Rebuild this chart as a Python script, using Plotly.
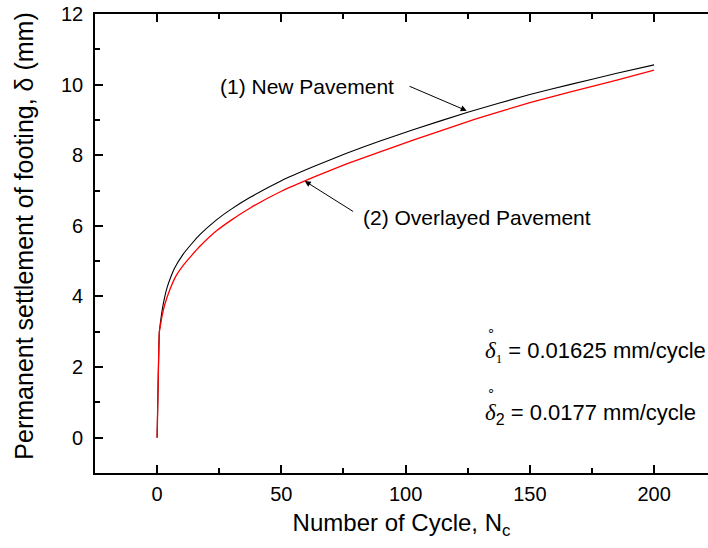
import plotly.graph_objects as go

# Settlement curves: number of cycles vs permanent settlement (mm)
cycles_new = [0, 0.4, 0.9, 1.5, 2, 3, 4, 5.5, 7, 10.5, 14, 17.2, 23.9, 30, 37.3, 50, 63, 76, 90, 103, 125, 150, 166, 185, 200]
settle_new = [0, 1.5, 3.0, 3.35, 3.6, 3.97, 4.25, 4.55, 4.8, 5.2, 5.5, 5.75, 6.17, 6.48, 6.8, 7.28, 7.68, 8.05, 8.41, 8.72, 9.22, 9.72, 10.0, 10.32, 10.56]

cycles_overlay = [0, 0.4, 0.9, 1.5, 2, 3, 5.1, 7.5, 10.5, 14, 17.2, 23.9, 30, 37.3, 50, 63, 76, 90, 103, 128, 150, 166, 185, 200]
settle_overlay = [0, 1.5, 3.0, 3.25, 3.45, 3.75, 4.19, 4.57, 4.88, 5.17, 5.42, 5.86, 6.17, 6.5, 6.98, 7.38, 7.75, 8.1, 8.43, 9.02, 9.49, 9.79, 10.13, 10.41]

x_ticks = [0, 50, 100, 150, 200]
y_ticks = [0, 2, 4, 6, 8, 10, 12]

FONT = "Arial, Liberation Sans, sans-serif"
SERIF = "Liberation Serif, Times New Roman, serif"

fig = go.Figure()
fig.add_trace(go.Scatter(x=cycles_new, y=settle_new, mode="lines",
                         line=dict(color="black", width=1.1, shape="spline", smoothing=0.4),
                         showlegend=False))
fig.add_trace(go.Scatter(x=cycles_overlay, y=settle_overlay, mode="lines",
                         line=dict(color="red", width=1.3, shape="spline", smoothing=0.4),
                         showlegend=False))

axis_common = dict(
    showgrid=False, zeroline=False, showline=True, linecolor="black", linewidth=1.6,
    ticks="inside", ticklen=8, tickwidth=1.5, tickcolor="black",
    tickfont=dict(family=FONT, size=20, color="black"),
)

fig.update_xaxes(
    **axis_common, range=[-25, 221.7], tickvals=x_ticks, mirror="ticks",
    minor=dict(ticks="inside", ticklen=5, tickwidth=1.5, tickcolor="black", dtick=25, tick0=0),
    title=dict(text="Number of Cycle, N<sub>c</sub>", font=dict(family=FONT, size=24, color="black"),
               standoff=10),
    ticklabelstandoff=2,
)
fig.update_yaxes(
    **axis_common, range=[-1, 12], tickvals=y_ticks, mirror=False,
    minor=dict(ticks="inside", ticklen=5, tickwidth=1.5, tickcolor="black", dtick=1, tick0=0),
    ticklabelstandoff=6,
)

delta = f"<span style='font-family:{SERIF}; font-style:italic; font-size:23px'>δ</span>"

annotations = [
    # vertical axis title
    dict(x=-0.115, y=0.516, xref="paper", yref="paper", xanchor="center", yanchor="middle",
         textangle=-90, text="Permanent settlement of footing, δ (mm)", showarrow=False,
         font=dict(family=FONT, size=25, color="black")),
    dict(x=60.2, y=9.96, text="(1) New Pavement", showarrow=False,
         font=dict(family=FONT, size=21, color="black")),
    dict(x=124.6, y=9.26, ax=101, ay=9.97, axref="x", ayref="y", text="",
         showarrow=True, arrowhead=2, arrowsize=1.2, arrowwidth=1, arrowcolor="black"),
    dict(x=128.6, y=6.24, text="(2) Overlayed Pavement", showarrow=False,
         font=dict(family=FONT, size=21, color="black")),
    dict(x=59.4, y=7.27, ax=79.5, ay=6.38, axref="x", ayref="y", text="",
         showarrow=True, arrowhead=2, arrowsize=1.2, arrowwidth=1, arrowcolor="black"),
    dict(x=131, y=2.42, xanchor="left",
         text=delta + f"<sub><span style='font-family:{SERIF}; font-size:13px'>1</span></sub> = 0.01625 mm/cycle",
         showarrow=False, font=dict(family=FONT, size=22, color="black")),
    dict(x=131, y=0.67, xanchor="left",
         text=delta + "<sub><span style='font-size:16px'>2</span></sub> = 0.0177 mm/cycle",
         showarrow=False, font=dict(family=FONT, size=22, color="black")),
    # ring accents above each delta
    dict(x=134.2, y=3.03, text="∘", showarrow=False,
         font=dict(family="DejaVu Sans", size=13, color="black")),
    dict(x=134.2, y=1.33, text="∘", showarrow=False,
         font=dict(family="DejaVu Sans", size=13, color="black")),
]
fig.update_layout(
    width=708, height=548,
    margin=dict(l=95, r=0, t=14, b=75),
    paper_bgcolor="white", plot_bgcolor="white",
    annotations=annotations,
)

fig.write_html("out.html")
